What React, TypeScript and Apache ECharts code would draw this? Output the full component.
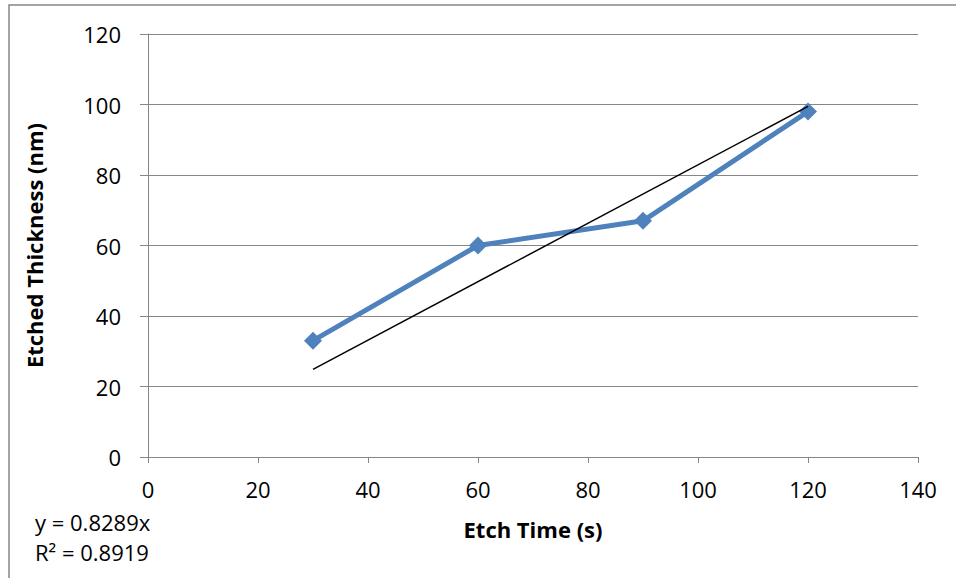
import React, { useEffect, useRef } from "react";
import * as echarts from "echarts";

const etchTime = [30, 60, 90, 120];
const etchedThickness = [33, 60, 67, 98];
const trendSlope = 0.8289;
const trendX = [30, 120];
const equationText = "y = 0.8289x";
const r2Text = "R² = 0.8919";
const xTitle = "Etch Time (s)";
const yTitle = "Etched Thickness (nm)";

const FONT = "'Open Sans', 'Liberation Sans', sans-serif";
const GRAY = "#868686";

export default function App() {
  const ref = useRef<HTMLDivElement>(null);
  useEffect(() => {
    if (!ref.current) return;
    const chart = echarts.init(ref.current, undefined, { renderer: "svg" });
    chart.setOption({
      animation: false,
      backgroundColor: "#ffffff",
      textStyle: { fontFamily: FONT },
      grid: { left: 148, right: 38, top: 34, bottom: 121, containLabel: false },
      xAxis: {
        type: "value",
        min: 0,
        max: 140,
        interval: 20,
        name: xTitle,
        nameLocation: "middle",
        nameGap: 61,
        nameTextStyle: { fontFamily: FONT, fontSize: 22, fontWeight: "bold", color: "#000" },
        axisLine: { show: true, lineStyle: { color: GRAY, width: 1 } },
        axisTick: { show: true, inside: false, length: 6, lineStyle: { color: GRAY } },
        axisLabel: { fontFamily: FONT, fontSize: 22, color: "#000", margin: 21 },
        splitLine: { show: false },
      },
      yAxis: {
        type: "value",
        min: 0,
        max: 120,
        interval: 20,
        name: yTitle,
        nameLocation: "middle",
        nameGap: 103,
        nameTextStyle: { fontFamily: FONT, fontSize: 22, fontWeight: "bold", color: "#000" },
        axisLine: { show: true, lineStyle: { color: GRAY, width: 1 } },
        axisTick: { show: true, inside: false, length: 8, lineStyle: { color: GRAY } },
        axisLabel: { fontFamily: FONT, fontSize: 22, color: "#000", margin: 27 },
        splitLine: { show: true, lineStyle: { color: GRAY, width: 1 } },
      },
      series: [
        {
          type: "line",
          data: etchTime.map((x, i) => [x, etchedThickness[i]]),
          lineStyle: { color: "#4F81BD", width: 5 },
          itemStyle: { color: "#4F81BD" },
          symbol: "diamond",
          symbolSize: 18,
          z: 2,
        },
        {
          type: "line",
          data: trendX.map((x) => [x, trendSlope * x]),
          lineStyle: { color: "#000000", width: 1.5 },
          symbol: "none",
          z: 3,
        },
      ],
      graphic: [
        {
          type: "rect",
          shape: { x: 9, y: 5, width: 1200, height: 800 },
          style: { fill: "none", stroke: GRAY, lineWidth: 1.5 },
          silent: true,
        },
        {
          type: "text",
          left: 35,
          top: 511,
          style: { text: equationText, font: `22px ${FONT}`, fill: "#000" },
        },
        {
          type: "text",
          left: 35,
          top: 541,
          style: { text: r2Text, font: `22px ${FONT}`, fill: "#000" },
        },
      ],
    });
    return () => chart.dispose();
  }, []);
  return (
    <div
      ref={ref}
      style={{ position: "fixed", left: 0, top: 0, width: 956, height: 578 }}
    />
  );
}
